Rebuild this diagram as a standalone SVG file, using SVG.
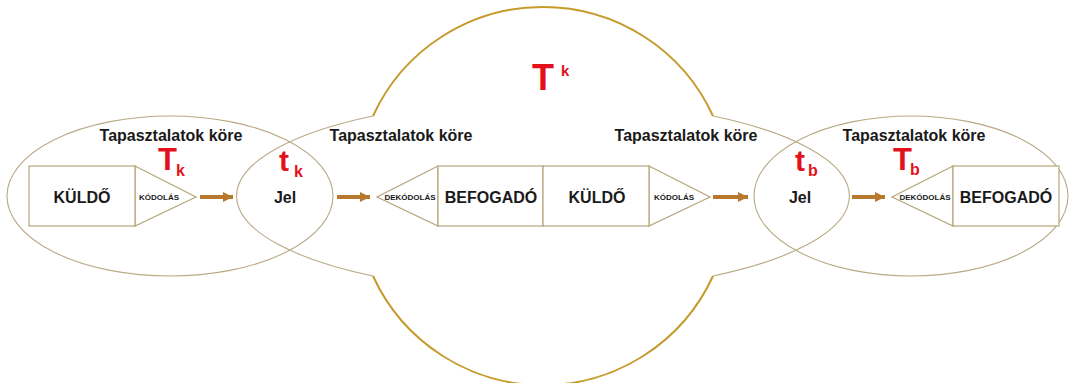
<svg xmlns="http://www.w3.org/2000/svg" width="1070" height="383" viewBox="0 0 1070 383">
<defs>
<style>
.ell{fill:none;stroke:#b9a984;stroke-width:1.1}
.arc{fill:none;stroke:#c59b2c;stroke-width:2}
.box{fill:#fff;stroke:#b7a47c;stroke-width:1.2}
.t{font-family:"Liberation Sans",Arial,sans-serif;font-weight:bold;fill:#1a1a1a}
.lbl{font-size:16px;text-anchor:middle}
.sm{font-size:8px;text-anchor:middle}
.red{font-family:"Liberation Sans",Arial,sans-serif;font-weight:bold;fill:#e3111b}
.arr{stroke:#b8782e;stroke-width:4;fill:none}
</style>
<marker id="ah" markerUnits="userSpaceOnUse" markerWidth="12" markerHeight="12" refX="10" refY="6" orient="auto">
<path d="M0,1 L10,6 L0,11 Z" fill="#b8782e"/>
</marker>
</defs>
<rect width="1070" height="383" fill="#fff"/>
<g id="experience-areas">
<ellipse class="ell" cx="170" cy="196" rx="163" ry="80"/>
<path class="ell" d="M373,116 A305,96 0 0 0 373,276"/>
<path class="ell" d="M713,116 A305,96 0 0 1 713,276"/>
<ellipse class="ell" cx="911" cy="196" rx="157" ry="80"/>
<path class="arc" d="M373,116 A187,187 0 0 1 713,116"/>
<path class="arc" d="M373,276 A187,187 0 0 0 713,276"/>
</g>
<g id="labels-experience">
<text class="t lbl" x="171" y="141">Tapasztalatok köre</text>
<text class="t lbl" x="401" y="141">Tapasztalatok köre</text>
<text class="t lbl" x="686" y="141">Tapasztalatok köre</text>
<text class="t lbl" x="914" y="141">Tapasztalatok köre</text>
</g>
<g id="sender-left">
<polygon class="box" points="135,166 196,197 135,226"/>
<rect class="box" x="29" y="166" width="106" height="60"/>
<text class="t lbl" x="82" y="203">KÜLDŐ</text>
<text class="t sm" x="159" y="200">KÓDOLÁS</text>
</g>
<g id="signal-left">
<text class="t" x="285" y="203" font-size="16" text-anchor="middle">Jel</text>
<text class="red" x="279" y="171" font-size="30">t</text>
<text class="red" x="294" y="177" font-size="16">k</text>
</g>
<g id="middle">
<polygon class="box" points="438,166 377,197 438,226"/>
<rect class="box" x="438" y="166" width="105" height="60"/>
<text class="t lbl" x="491" y="203">BEFOGADÓ</text>
<text class="t sm" x="410" y="200">DEKÓDOLÁS</text>
<polygon class="box" points="649,166 710,197 649,226"/>
<rect class="box" x="543" y="166" width="106" height="60"/>
<text class="t lbl" x="597" y="203">KÜLDŐ</text>
<text class="t sm" x="674" y="200">KÓDOLÁS</text>
</g>
<g id="signal-right">
<text class="t" x="800" y="203" font-size="16" text-anchor="middle">Jel</text>
<text class="red" x="795" y="171" font-size="30">t</text>
<text class="red" x="808" y="176" font-size="16">b</text>
</g>
<g id="receiver-right">
<polygon class="box" points="953,166 892,197 953,226"/>
<rect class="box" x="953" y="166" width="106" height="60"/>
<text class="t lbl" x="1006" y="203">BEFOGADÓ</text>
<text class="t sm" x="925" y="200">DEKÓDOLÁS</text>
</g>
<g id="symbols">
<text class="red" x="158" y="170" font-size="31">T</text>
<text class="red" x="176" y="176" font-size="16">k</text>
<text class="red" x="893" y="170" font-size="31">T</text>
<text class="red" x="910" y="175" font-size="16">b</text>
<text class="red" x="532" y="90" font-size="36">T</text>
<text class="red" x="561" y="76" font-size="15">k</text>
</g>
<g id="connectors">
<line class="arr" x1="200" y1="197" x2="233" y2="197" marker-end="url(#ah)"/>
<line class="arr" x1="337" y1="197" x2="370" y2="197" marker-end="url(#ah)"/>
<line class="arr" x1="713" y1="197" x2="748" y2="197" marker-end="url(#ah)"/>
<line class="arr" x1="852" y1="197" x2="885" y2="197" marker-end="url(#ah)"/>
</g>
</svg>
